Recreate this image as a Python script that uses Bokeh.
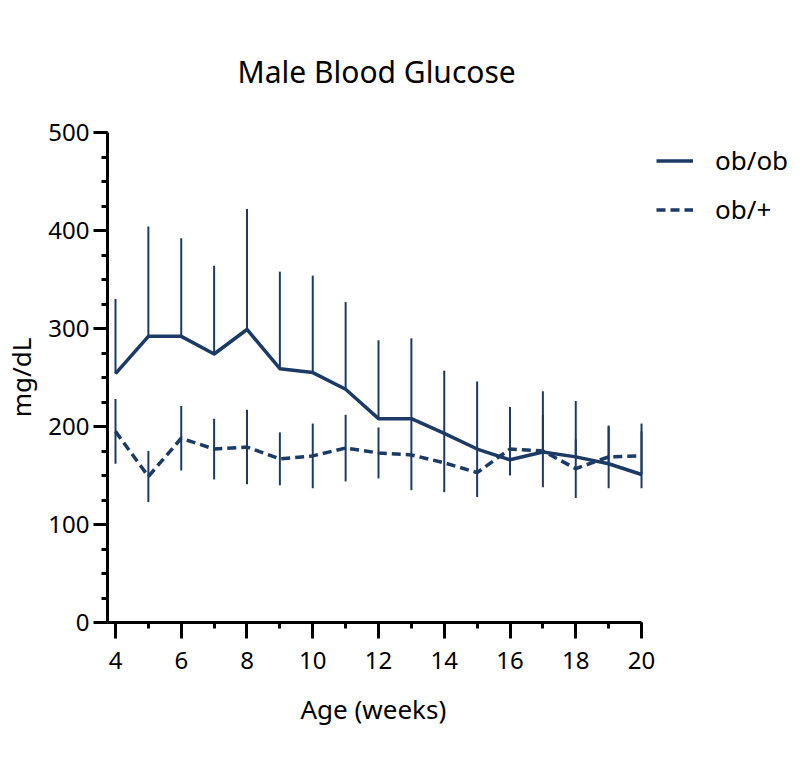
from bokeh.plotting import figure
from bokeh.models import Range1d, SingleIntervalTicker, Legend, LegendItem, Title
from bokeh.embed import file_html
from bokeh.resources import INLINE

weeks = [4, 5, 6, 7, 8, 9, 10, 11, 12, 13, 14, 15, 16, 17, 18, 19, 20]
obob_mean = [254, 292, 292, 274, 299, 259, 255, 238, 208, 208, 193, 177, 166, 174, 169, 162, 151]
obob_err = [76, 112, 100, 90, 123, 99, 99, 89, 80, 82, 64, 69, 54, 62, 57, 38, 44]
obhet_mean = [195, 149, 188, 177, 179, 167, 170, 178, 173, 171, 163, 153, 177, 175, 157, 169, 170]
obhet_err = [33, 26, 33, 31, 38, 27, 33, 34, 26, 36, 30, 25, 27, 37, 30, 32, 33]

COLOR = "#1c3a66"
FONT = "Noto Sans"

# frame: 107..795 px wide (688 px); data area 107..642 for weeks 3.757..20.03
X0 = 3.757
PXW = 535 / (20.03 - X0)
X1 = X0 + 688 / PXW

p = figure(width=800, height=770,
           x_range=Range1d(X0, X1), y_range=Range1d(0, 500),
           output_backend="svg", toolbar_location=None,
           min_border_left=107, min_border_right=5,
           min_border_top=132, min_border_bottom=148,
           title="Male Blood Glucose")

p.outline_line_color = None
p.xgrid.visible = False
p.ygrid.visible = False
p.background_fill_color = "white"
p.border_fill_color = "white"

p.title.text_font = FONT
p.title.text_font_size = "30px"
p.title.text_font_style = "normal"
p.title.align = "left"
p.title.offset = 130
p.title.text_color = "black"
p.title.standoff = 81

p.xaxis.ticker = SingleIntervalTicker(interval=2, num_minor_ticks=2)
p.yaxis.ticker = SingleIntervalTicker(interval=100, num_minor_ticks=4)
p.xaxis.bounds = (X0, 20)

for ax in (p.xaxis[0], p.yaxis[0]):
    ax.axis_line_width = 3
    ax.axis_line_color = "black"
    ax.major_tick_line_width = 3
    ax.minor_tick_line_width = 3
    ax.major_tick_line_color = "black"
    ax.minor_tick_line_color = "black"
    ax.major_tick_in = 0
    ax.minor_tick_in = 0
    ax.minor_tick_out = 6
    ax.major_label_text_font = FONT
    ax.major_label_text_font_size = "24px"
    ax.major_label_text_color = "black"
    ax.axis_label_text_font = FONT
    ax.axis_label_text_font_size = "26px"
    ax.axis_label_text_font_style = "normal"
    ax.axis_label_text_color = "black"

p.xaxis.major_tick_out = 16
p.yaxis.major_tick_out = 14
p.xaxis.major_label_standoff = 13
p.yaxis.major_label_standoff = 4
p.yaxis.axis_label = "mg/dL"
p.yaxis.axis_label_standoff = 6

xlabel = Title(text="Age (weeks)", align="left", offset=193,
               text_font=FONT, text_font_size="26px", text_font_style="normal",
               text_color="black", standoff=35)
p.add_layout(xlabel, "below")

obob_hi = [m + e for m, e in zip(obob_mean, obob_err)]
het_hi = [m + e for m, e in zip(obhet_mean, obhet_err)]
het_lo = [m - e for m, e in zip(obhet_mean, obhet_err)]

p.segment(x0=weeks, y0=obob_mean, x1=weeks, y1=obob_hi, line_color=COLOR, line_width=2)
p.segment(x0=weeks, y0=het_lo, x1=weeks, y1=het_hi, line_color=COLOR, line_width=2)

l1 = p.line(weeks, obob_mean, line_color=COLOR, line_width=3.5, line_join="round")
l2 = p.line(weeks, obhet_mean, line_color=COLOR, line_width=3.5, line_dash="9 5", line_join="round")

legend = Legend(items=[LegendItem(label="ob/ob", renderers=[l1]),
                       LegendItem(label="ob/+", renderers=[l2])],
                location=(549, 395))
legend.margin = 0
legend.padding = 0
legend.border_line_alpha = 0
legend.background_fill_alpha = 0
legend.glyph_width = 37
legend.glyph_height = 31
legend.label_height = 31
legend.label_standoff = 22
legend.spacing = 13
legend.label_text_font = FONT
legend.label_text_font_size = "26px"
legend.label_text_color = "black"
p.add_layout(legend, "center")

open("out.html", "w").write(file_html(p, INLINE))
